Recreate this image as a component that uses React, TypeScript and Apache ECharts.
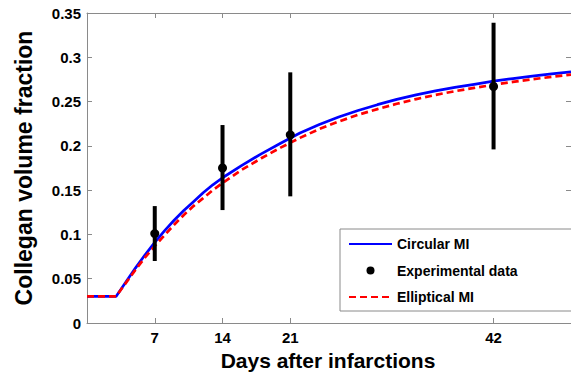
import React, { useEffect, useRef } from "react";
import * as echarts from "echarts";

// Model curves (days after infarction -> collagen volume fraction)
const modelDays = [0, 3, 4, 5, 6, 7, 8, 9, 10, 11, 12, 13, 14, 16, 18, 20, 22, 24, 26, 28, 30, 32, 34, 36, 38, 40, 42, 44, 46, 48, 50];
const circularMI = [0.03, 0.03, 0.046, 0.062, 0.077, 0.091, 0.104, 0.116, 0.127, 0.137, 0.147, 0.156, 0.164, 0.178, 0.191, 0.203, 0.2145, 0.224, 0.2325, 0.24, 0.2465, 0.2525, 0.2575, 0.262, 0.266, 0.2695, 0.273, 0.276, 0.2787, 0.2812, 0.2835];
const ellipticalMI = [0.03, 0.03, 0.045, 0.06, 0.074, 0.087, 0.099, 0.111, 0.122, 0.132, 0.141, 0.15, 0.158, 0.173, 0.186, 0.198, 0.209, 0.219, 0.2275, 0.235, 0.2415, 0.2475, 0.2528, 0.2575, 0.2617, 0.2654, 0.269, 0.2722, 0.2752, 0.2779, 0.2804];

// Experimental data
const expDays = [7, 14, 21, 42];
const expMean = [0.101, 0.175, 0.2125, 0.267];
const expLow = [0.07, 0.1275, 0.143, 0.196];
const expHigh = [0.132, 0.2235, 0.283, 0.339];

// Axis ticks
const xTicks = [7, 14, 21, 42];

const FONT = "Liberation Sans, Arial, Helvetica, sans-serif";
const FRAME = "#8a8a8a";

export default function App() {
  const ref = useRef<HTMLDivElement>(null);

  useEffect(() => {
    if (!ref.current) return;
    const chart = echarts.init(ref.current, null, { renderer: "svg" });

    const xCommon = {
      type: "value" as const,
      min: 0,
      max: 50,
      axisLine: { show: true, onZero: false, lineStyle: { color: FRAME, width: 1 } },
      axisTick: { show: true, inside: true, length: 5, customValues: xTicks, lineStyle: { color: FRAME } },
      splitLine: { show: false },
    };
    const yCommon = {
      type: "value" as const,
      min: 0,
      max: 0.35,
      interval: 0.05,
      axisLine: { show: true, onZero: false, lineStyle: { color: FRAME, width: 1 } },
      axisTick: { show: true, inside: true, length: 5, lineStyle: { color: FRAME } },
      splitLine: { show: false },
    };

    chart.setOption({
      animation: false,
      backgroundColor: "#ffffff",
      textStyle: { fontFamily: FONT },
      grid: { left: 87, top: 13, right: -10, bottom: 54 },
      xAxis: [
        {
          ...xCommon,
          position: "bottom",
          name: "Days after infarctions",
          nameLocation: "middle",
          nameGap: 24,
          nameTextStyle: { fontSize: 21, fontWeight: "bold", color: "#000", fontFamily: FONT, padding: [0, 2, 0, 0] },
          axisLabel: { show: true, customValues: xTicks, fontSize: 15, fontWeight: "bold", color: "#000", margin: 7, fontFamily: FONT },
        },
        {
          ...xCommon,
          position: "top",
          axisLabel: { show: false },
        },
      ],
      yAxis: [
        {
          ...yCommon,
          position: "left",
          name: "Collegan volume fraction",
          nameLocation: "middle",
          nameGap: 52,
          nameTextStyle: { fontSize: 23, fontWeight: "bold", color: "#000", fontFamily: FONT },
          axisLabel: { show: true, fontSize: 15, fontWeight: "bold", color: "#000", margin: 6, fontFamily: FONT },
        },
        {
          ...yCommon,
          position: "right",
          axisLabel: { show: false },
        },
      ],
      legend: {
        orient: "vertical",
        left: 340,
        top: 229,
        padding: [8, 80, 7, 8],
        itemWidth: 43,
        itemHeight: 14,
        itemGap: 12.5,
        borderColor: FRAME,
        borderWidth: 1,
        backgroundColor: "#ffffff",
        textStyle: { fontSize: 14, fontWeight: "bold", color: "#000", fontFamily: FONT },
        data: [
          { name: "Circular MI", itemStyle: { opacity: 0 } },
          { name: "Experimental data", icon: "path://M0,0M43,14M17.5,7a4,4 0 1,0 8,0a4,4 0 1,0 -8,0z", itemStyle: { opacity: 1 } },
          { name: "Elliptical MI", itemStyle: { opacity: 0 } },
        ],
      },
      series: [
        {
          name: "Circular MI",
          type: "line",
          data: modelDays.map((d, i) => [d, circularMI[i]]),
          showSymbol: false,
          symbol: "none",
          lineStyle: { color: "#0000ff", width: 2.7 },
          itemStyle: { color: "#0000ff" },
          z: 2,
        },
        {
          name: "Elliptical MI",
          type: "line",
          data: modelDays.map((d, i) => [d, ellipticalMI[i]]),
          showSymbol: false,
          symbol: "none",
          lineStyle: { color: "#ff0000", width: 2.7, type: [7, 4] },
          itemStyle: { color: "#ff0000" },
          z: 3,
        },
        {
          name: "Error bars",
          type: "custom",
          data: expDays.map((d, i) => [d, expLow[i], expHigh[i]]),
          renderItem: (params: any, api: any) => {
            const lo = api.coord([api.value(0), api.value(1)]);
            const hi = api.coord([api.value(0), api.value(2)]);
            return {
              type: "line",
              shape: { x1: lo[0], y1: lo[1], x2: hi[0], y2: hi[1] },
              style: { stroke: "#000", lineWidth: 4 },
            };
          },
          silent: true,
          z: 4,
        },
        {
          name: "Experimental data",
          type: "scatter",
          data: expDays.map((d, i) => [d, expMean[i]]),
          symbol: "circle",
          symbolSize: 9,
          itemStyle: { color: "#000", opacity: 1 },
          z: 5,
        },
      ],
    });

    return () => chart.dispose();
  }, []);

  return (
    <div
      ref={ref}
      style={{ position: "fixed", left: 0, top: 0, width: 571, height: 377, background: "#fff" }}
    />
  );
}
